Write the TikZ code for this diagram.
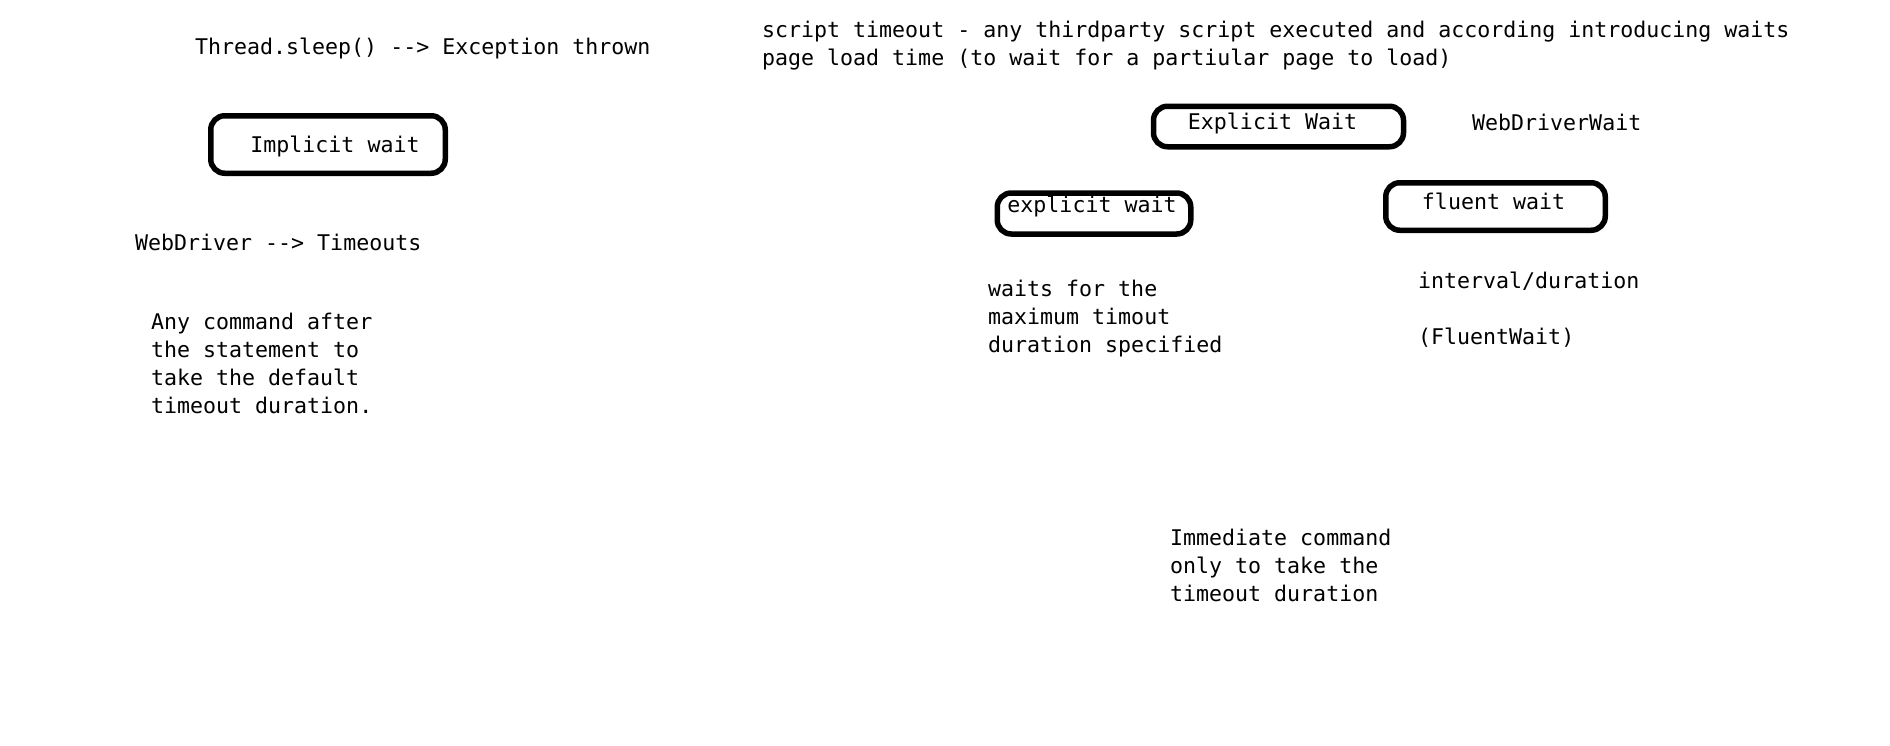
\documentclass[tikz,border=0pt]{standalone}
\usepackage{fontspec}
\setmonofont{DejaVu Sans Mono}
\begin{document}
\begin{tikzpicture}[x=1pt,y=-1pt,
  txt/.style={font=\ttfamily\fontsize{21.6}{27.7}\selectfont, inner sep=0pt, anchor=base west, align=left},
  waitbox/.style={draw, line width=5.5pt, rounded corners=14pt, font=\ttfamily\fontsize{21.6}{27.7}\selectfont, inner sep=0pt, text height=16pt}]
\useasboundingbox[fill=white] (0,0) rectangle (1890,745);

% left column
\node[txt] (sleep) at (195,54) {Thread.sleep() --> Exception thrown};
\node[waitbox, minimum width=234.5pt, minimum height=57.5pt, text depth=1pt] (implicit) at (328,144.5) {\hspace*{14pt}Implicit wait};
\node[txt] (timeouts) at (135,250.5) {WebDriver --> Timeouts};
\node[txt] (anycmd) at (151,413) {Any command after\\the statement to\\take the default\\timeout duration.};

% right column
\node[txt] (script) at (762,65) {script timeout - any thirdparty script executed and according introducing waits\\page load time (to wait for a partiular page to load)};
\node[waitbox, minimum width=250pt, minimum height=40.5pt, text depth=11pt] (Explicit) at (1278.5,126.5) {Explicit Wait\hspace*{12pt}};
\node[txt] (wdw) at (1472,130) {WebDriverWait};
\node[waitbox, minimum width=193.5pt, minimum height=41pt, text depth=19pt] (explicit) at (1094,213.5) {explicit wait\hspace*{4pt}};
\node[waitbox, minimum width=219.5pt, minimum height=47.5pt, text depth=11pt] (fluent) at (1495.5,206.5) {fluent wait\hspace*{4pt}};
\node[txt] (waitsfor) at (988,352) {waits for the\\maximum timout\\duration specified};
\node[txt] (interval) at (1418,288) {interval/duration};
\node[txt] (fluentwait) at (1418,344.5) {(FluentWait)};
\node[txt] (immediate) at (1170,601) {Immediate command\\only to take the\\timeout duration};
\end{tikzpicture}
\end{document}
